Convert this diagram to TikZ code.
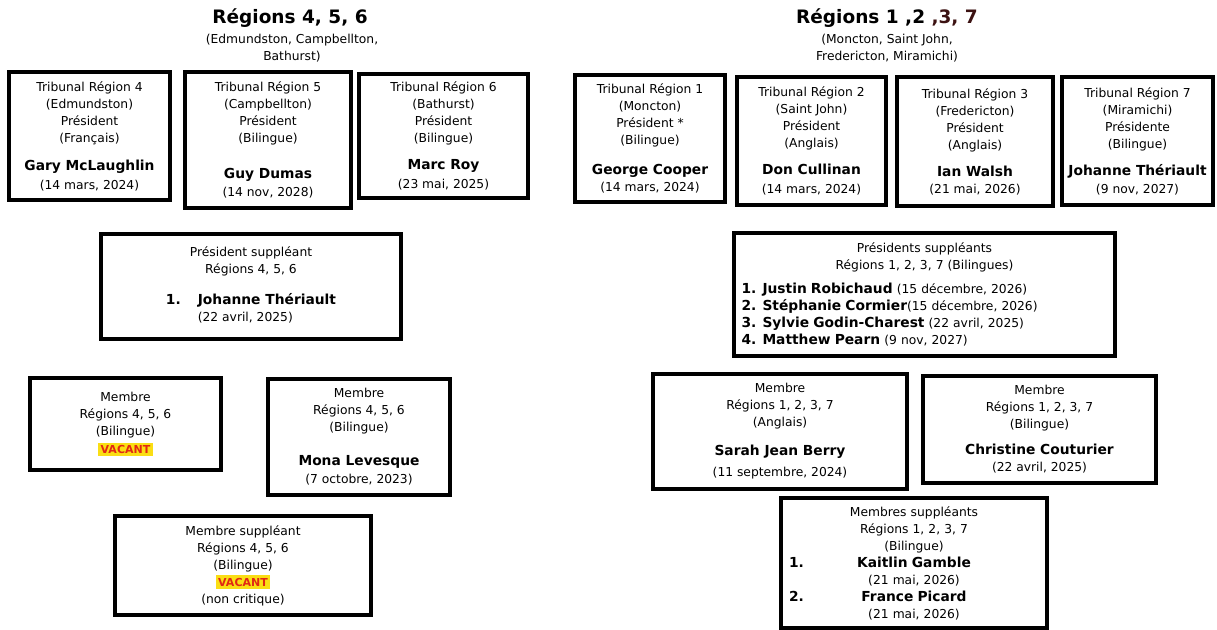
\documentclass[tikz,border=0pt]{standalone}
\usepackage{fontspec}
\setmainfont{DejaVu Sans}
\usepackage{tikz}

\definecolor{vacantbg}{RGB}{250,222,20}
\definecolor{vacantfg}{RGB}{225,40,20}
\definecolor{titlered}{RGB}{60,18,18}
\newcommand{\nom}[1]{{\fontsize{13.8}{17}\selectfont\bfseries #1}}
\newcommand{\vacant}{{\setlength{\fboxsep}{2.5pt}\colorbox{vacantbg}{\textcolor{vacantfg}{\fontsize{11}{11}\selectfont\bfseries VACANT}}}}
\newcommand{\numline}[2]{\makebox[\linewidth][s]{\nom{#1}\hfill\nom{#2}\hfill\phantom{\nom{#1}}}}

\begin{document}
\begin{tikzpicture}
  [x=1pt,y=-1pt,
   every node/.style={inner sep=0pt, font=\fontsize{12.3}{17}\selectfont},
   panel/.style={draw=black, line width=3.5pt, align=center},
   heading/.style={font=\fontsize{18.5}{20}\selectfont\bfseries},
   subhead/.style={align=center}]
  \path[use as bounding box, fill=white] (0,0) rectangle (1217,629);

  \node[heading] (t456) at (290,18) {Régions 4, 5, 6};
  \node[subhead] (s456) at (292,48.5) {(Edmundston, Campbellton,\\Bathurst)};
  \node[heading] (t1237) at (887,18) {Régions 1 ,2 \textcolor{titlered}{,3, 7}};
  \node[subhead] (s1237) at (887,48.5) {(Moncton, Saint John,\\Fredericton, Miramichi)};

  \node[panel, minimum width=161, minimum height=128] (r4) at (89.5,136)
    {Tribunal Région 4\\(Edmundston)\\Président\\(Français)\\[11pt]\nom{Gary McLaughlin}\\[2pt](14 mars, 2024)};
  \node[panel, minimum width=166, minimum height=136] (r5) at (268,140)
    {Tribunal Région 5\\(Campbellton)\\Président\\(Bilingue)\\[19pt]\nom{Guy Dumas}\\[1pt](14 nov, 2028)};
  \node[panel, minimum width=169, minimum height=124] (r6) at (443.5,136)
    {Tribunal Région 6\\(Bathurst)\\Président\\(Bilingue)\\[10pt]\nom{Marc Roy}\\[2pt](23 mai, 2025)};
  \node[panel, minimum width=150, minimum height=127] (r1) at (650,138.5)
    {Tribunal Région 1\\(Moncton)\\Président *\\(Bilingue)\\[13pt]\nom{George Cooper}\\(14 mars, 2024)};
  \node[panel, minimum width=149, minimum height=128] (r2) at (811.5,141)
    {Tribunal Région 2\\(Saint John)\\Président\\(Anglais)\\[10pt]\nom{Don Cullinan}\\[2pt](14 mars, 2024)};
  \node[panel, minimum width=156, minimum height=129] (r3) at (975,141.5)
    {Tribunal Région 3\\(Fredericton)\\Président\\(Anglais)\\[10pt]\nom{Ian Walsh}\\(21 mai, 2026)};
  \node[panel, minimum width=151, minimum height=128] (r7) at (1137.5,141)
    {Tribunal Région 7\\(Miramichi)\\Présidente\\(Bilingue)\\[10pt]\nom{Johanne Thériault}\\[1pt](9 nov, 2027)};

  \node[panel, minimum width=300, minimum height=105] (ps456) at (251,286.5)
    {Président suppléant\\Régions 4, 5, 6\\[15pt]%
     \begin{tabular}{@{}l@{\hspace{17pt}}l@{}}\nom{1.} & \nom{Johanne Thériault}\\ & (22 avril, 2025)\end{tabular}};
  \node[panel, minimum width=381, minimum height=123, text width=366, align=left] (ps1237) at (924.5,294.5)
    {\makebox[\linewidth]{Présidents suppléants}\\\makebox[\linewidth]{Régions 1, 2, 3, 7 (Bilingues)}\\[7pt]%
     \nom{1. Justin Robichaud} (15 décembre, 2026)\\
     \nom{2. Stéphanie Cormier}(15 décembre, 2026)\\
     \nom{3. Sylvie Godin-Charest} (22 avril, 2025)\\
     \nom{4. Matthew Pearn} (9 nov, 2027)};

  \node[panel, minimum width=191, minimum height=92] (m456a) at (125.5,424)
    {Membre\\Régions 4, 5, 6\\(Bilingue)\\[1pt]\vacant};
  \node[panel, minimum width=182, minimum height=116] (m456b) at (359,437)
    {Membre\\Régions 4, 5, 6\\(Bilingue)\\[17pt]\nom{Mona Levesque}\\[1pt](7 octobre, 2023)};
  \node[panel, minimum width=254, minimum height=115] (m1237a) at (780,431.5)
    {Membre\\Régions 1, 2, 3, 7\\(Anglais)\\[12pt]\nom{Sarah Jean Berry}\\[4pt](11 septembre, 2024)};
  \node[panel, minimum width=233, minimum height=107] (m1237b) at (1039.5,429.5)
    {Membre\\Régions 1, 2, 3, 7\\(Bilingue)\\[9pt]\nom{Christine Couturier}\\(22 avril, 2025)};

  \node[panel, minimum width=256, minimum height=99] (ms456) at (243,565.5)
    {Membre suppléant\\Régions 4, 5, 6\\(Bilingue)\\\vacant\\(non critique)};
  \node[panel, minimum width=266, minimum height=130, text width=250] (ms1237) at (914,563)
    {Membres suppléants\\Régions 1, 2, 3, 7\\(Bilingue)\\\numline{1.}{Kaitlin Gamble}\\(21 mai, 2026)\\\numline{2.}{France Picard}\\(21 mai, 2026)};
\end{tikzpicture}
\end{document}
